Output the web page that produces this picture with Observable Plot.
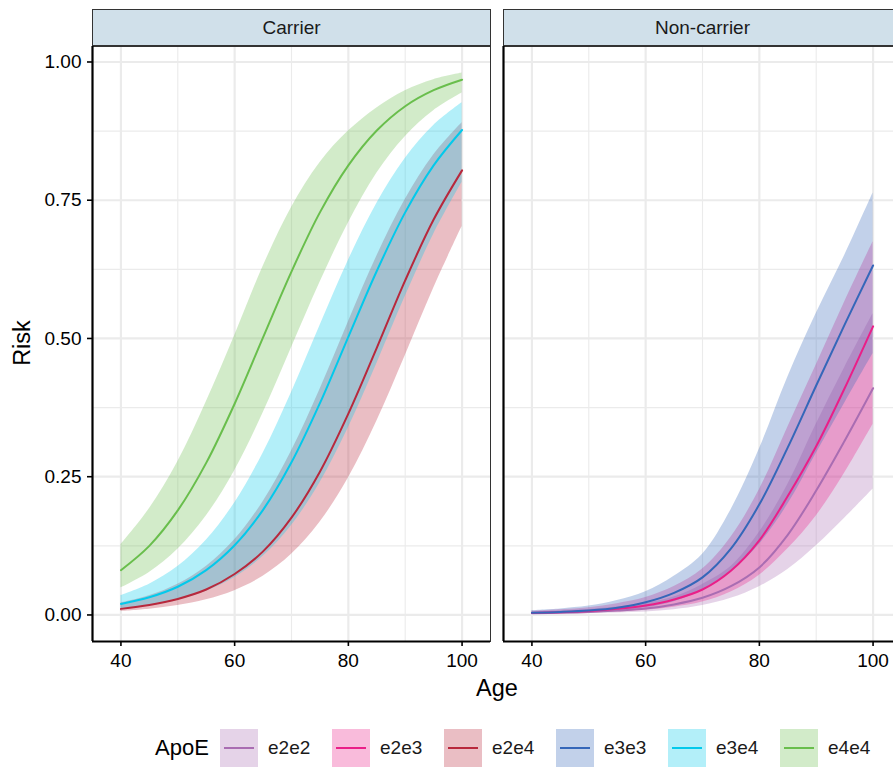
<!DOCTYPE html>
<html>
<head>
<meta charset="utf-8">
<script src="https://cdn.jsdelivr.net/npm/d3@7"></script>
<script src="https://cdn.jsdelivr.net/npm/@observablehq/plot@0.6"></script>
<style>
  html, body { margin: 0; padding: 0; background: #fff; overflow: hidden; }
  #root { position: relative; width: 893px; height: 771px; overflow: hidden;
          font-family: "Liberation Sans", Arial, Helvetica, sans-serif; color: #000; }
  .panel { position: absolute; top: 0; }
  .panel svg { max-width: none !important; }
  .strip { position: absolute; top: 9px; height: 37px; box-sizing: border-box;
           background: #d0e0ea; border: 1px solid #333;
           display: flex; align-items: center; justify-content: center;
           font-size: 19px; color: #1a1a1a; }
  .ytitle { position: absolute; left: 22px; top: 343px; transform: translate(-50%, -50%) rotate(-90deg);
            font-size: 23.5px; white-space: nowrap; }
  .xtitle { position: absolute; left: 497px; top: 688px; transform: translate(-50%, -50%);
            font-size: 23.5px; }
  .legtitle { position: absolute; left: 155px; top: 748px; transform: translateY(-50%); font-size: 22px; }
  .key { position: absolute; top: 729px; width: 38px; height: 38px; }
  .key .ln { position: absolute; left: 4px; right: 4px; top: 18px; height: 2px; }
  .keylab { position: absolute; top: 748px; transform: translateY(-50%); font-size: 19px; color: #1a1a1a; }
</style>
</head>
<body>
<div id="root"></div>
<script>
// ---------- data ----------
const ages = [40, 45, 50, 55, 60, 65, 70, 75, 80, 85, 90, 95, 100];

const groups = ["Carrier", "Non-carrier"];
const apoeLevels = ["e2e2", "e2e3", "e2e4", "e3e3", "e3e4", "e4e4"];
const apoeGroup  = ["Non-carrier", "Non-carrier", "Carrier", "Non-carrier", "Carrier", "Carrier"];
const apoeColors = ["#a96db2", "#ea1f88", "#b8283c", "#3567b9", "#03c9eb", "#69be4c"];

// Carrier
const e2e4_mean = [0.011, 0.018, 0.029, 0.046, 0.074, 0.115, 0.176, 0.259, 0.364, 0.483, 0.605, 0.715, 0.804];
const e2e4_lo   = [0.0064, 0.0104, 0.0169, 0.0273, 0.0439, 0.0699, 0.1096, 0.1676, 0.2479, 0.3504, 0.4688, 0.5908, 0.7026];
const e2e4_hi   = [0.0215, 0.0346, 0.0555, 0.0877, 0.1359, 0.2047, 0.2963, 0.4079, 0.53, 0.6485, 0.7512, 0.8316, 0.8899];

const e3e4_mean = [0.020, 0.032, 0.051, 0.081, 0.126, 0.190, 0.276, 0.383, 0.503, 0.622, 0.728, 0.813, 0.877];
const e3e4_lo   = [0.0103, 0.0166, 0.0267, 0.0428, 0.0678, 0.106, 0.1618, 0.2391, 0.3385, 0.4545, 0.5757, 0.6883, 0.7825];
const e3e4_hi   = [0.0349, 0.0556, 0.0875, 0.135, 0.2026, 0.2926, 0.4025, 0.5231, 0.6411, 0.7441, 0.8256, 0.8852, 0.9262];

const e4e4_mean = [0.081, 0.125, 0.189, 0.275, 0.382, 0.502, 0.621, 0.728, 0.813, 0.876, 0.920, 0.949, 0.968];
const e4e4_lo   = [0.049, 0.077, 0.119, 0.179, 0.261, 0.365, 0.483, 0.601, 0.709, 0.799, 0.865, 0.912, 0.944];
const e4e4_hi   = [0.127, 0.192, 0.277, 0.385, 0.505, 0.630, 0.737, 0.818, 0.875, 0.917, 0.948, 0.968, 0.980];

// Non-carrier
const e2e2_mean = [0.003, 0.004, 0.0055, 0.008, 0.0115, 0.019, 0.031, 0.052, 0.086, 0.145, 0.225, 0.315, 0.41];
const e2e2_lo   = [0.0012, 0.0017, 0.0025, 0.0037, 0.0055, 0.0095, 0.017, 0.03, 0.051, 0.082, 0.125, 0.175, 0.228];
const e2e2_hi   = [0.0055, 0.0072, 0.010, 0.0145, 0.0208, 0.0323, 0.0552, 0.0876, 0.1494, 0.236, 0.345, 0.447, 0.545];

const e2e3_mean = [0.0035, 0.005, 0.007, 0.011, 0.017, 0.028, 0.046, 0.08, 0.135, 0.215, 0.305, 0.41, 0.522];
const e2e3_lo   = [0.0018, 0.0025, 0.0035, 0.0055, 0.0085, 0.0141, 0.0234, 0.0414, 0.0719, 0.1197, 0.1791, 0.2566, 0.345];
const e2e3_hi   = [0.0066, 0.0094, 0.013, 0.0204, 0.0315, 0.0513, 0.083, 0.1404, 0.2266, 0.3396, 0.4519, 0.566, 0.675];

const e3e3_mean = [0.004, 0.0055, 0.008, 0.013, 0.023, 0.04, 0.068, 0.12, 0.2, 0.303, 0.415, 0.525, 0.632];
const e3e3_lo   = [0.002, 0.003, 0.0045, 0.0075, 0.013, 0.024, 0.045, 0.078, 0.128, 0.2, 0.292, 0.383, 0.473];
const e3e3_hi   = [0.008, 0.011, 0.016, 0.026, 0.042, 0.07, 0.11, 0.19, 0.3, 0.43, 0.545, 0.65, 0.763];

const xTicks = [40, 60, 80, 100];
const xMinor = [50, 70, 90];
const yTicks = [0, 0.25, 0.5, 0.75, 1];
const yMinor = [0.125, 0.375, 0.625, 0.875];
const xDomain = [35, 105];
const yDomain = [-0.048, 1.028];

// ---------- tidy table ----------
const seriesValues = {
  e2e2: [e2e2_mean, e2e2_lo, e2e2_hi],
  e2e3: [e2e3_mean, e2e3_lo, e2e3_hi],
  e2e4: [e2e4_mean, e2e4_lo, e2e4_hi],
  e3e3: [e3e3_mean, e3e3_lo, e3e3_hi],
  e3e4: [e3e4_mean, e3e4_lo, e3e4_hi],
  e4e4: [e4e4_mean, e4e4_lo, e4e4_hi]
};
const rows = [];
apoeLevels.forEach((k, j) => {
  const [m, lo, hi] = seriesValues[k];
  ages.forEach((a, i) => rows.push({group: apoeGroup[j], apoe: k, age: a, mean: m[i], lo: lo[i], hi: hi[i]}));
});

// ---------- layout ----------
const root = document.getElementById("root");
const panelSpecs = [
  {group: "Carrier",     left: 0,   width: 491, ml: 92, mr: 1, yaxis: true},
  {group: "Non-carrier", left: 502, width: 400, ml: 1,  mr: 1, yaxis: false}
];

const fontFam = "Liberation Sans, Arial, Helvetica, sans-serif";

panelSpecs.forEach(spec => {
  const data = rows.filter(d => d.group === spec.group);
  const chart = Plot.plot({
    width: spec.width,
    height: 680,
    marginLeft: spec.ml,
    marginRight: spec.mr,
    marginTop: 46,
    marginBottom: 39,
    style: {background: "transparent", color: "#000", fontFamily: fontFam, overflow: "visible", maxWidth: "none"},
    x: {domain: xDomain, axis: null},
    y: {domain: yDomain, axis: null},
    color: {domain: apoeLevels, range: apoeColors},
    marks: [
      Plot.ruleX(xMinor, {stroke: "#ebebeb", strokeWidth: 1.1}),
      Plot.ruleY(yMinor, {stroke: "#ebebeb", strokeWidth: 1.1}),
      Plot.ruleX(xTicks, {stroke: "#ebebeb", strokeWidth: 2.2}),
      Plot.ruleY(yTicks, {stroke: "#ebebeb", strokeWidth: 2.2}),
      Plot.areaY(data, {x: "age", y1: "lo", y2: "hi", fill: "apoe", fillOpacity: 0.3, curve: "catmull-rom"}),
      Plot.lineY(data, {x: "age", y: "mean", stroke: "apoe", strokeWidth: 2, curve: "catmull-rom"}),
      Plot.frame({stroke: "#333", strokeWidth: 1}),
      Plot.ruleX([xDomain[0]], {stroke: "#000", strokeWidth: 2.2}),
      Plot.ruleY([yDomain[0]], {stroke: "#000", strokeWidth: 2.2}),
      Plot.axisX({ticks: xTicks, tickSize: 5, tickPadding: 7, fontSize: 19, label: null, stroke: "#000", strokeWidth: 1.6}),
      spec.yaxis ? Plot.axisY({ticks: yTicks, tickFormat: d3.format(".2f"), tickSize: 5, tickPadding: 6,
                               fontSize: 19, label: null, stroke: "#000", strokeWidth: 1.6}) : null
    ]
  });
  const wrap = document.createElement("div");
  wrap.className = "panel";
  wrap.style.left = spec.left + "px";
  wrap.style.width = spec.width + "px";
  wrap.appendChild(chart);
  root.appendChild(wrap);

  const strip = document.createElement("div");
  strip.className = "strip";
  strip.style.left = (spec.left + spec.ml) + "px";
  strip.style.width = (spec.width - spec.ml - spec.mr + 1) + "px";
  strip.textContent = spec.group;
  root.appendChild(strip);
});

// axis titles
const yt = document.createElement("div"); yt.className = "ytitle"; yt.textContent = "Risk"; root.appendChild(yt);
const xt = document.createElement("div"); xt.className = "xtitle"; xt.textContent = "Age"; root.appendChild(xt);

// legend
const lt = document.createElement("div"); lt.className = "legtitle"; lt.textContent = "ApoE"; root.appendChild(lt);
apoeLevels.forEach((k, i) => {
  const c = d3.color(apoeColors[i]);
  const key = document.createElement("div");
  key.className = "key";
  key.style.left = (220 + i * 112) + "px";
  key.style.background = `rgba(${c.r},${c.g},${c.b},0.3)`;
  const ln = document.createElement("div");
  ln.className = "ln";
  ln.style.background = apoeColors[i];
  key.appendChild(ln);
  root.appendChild(key);
  const lab = document.createElement("div");
  lab.className = "keylab";
  lab.style.left = (220 + i * 112 + 38 + 10) + "px";
  lab.textContent = k;
  root.appendChild(lab);
});
</script>
</body>
</html>
